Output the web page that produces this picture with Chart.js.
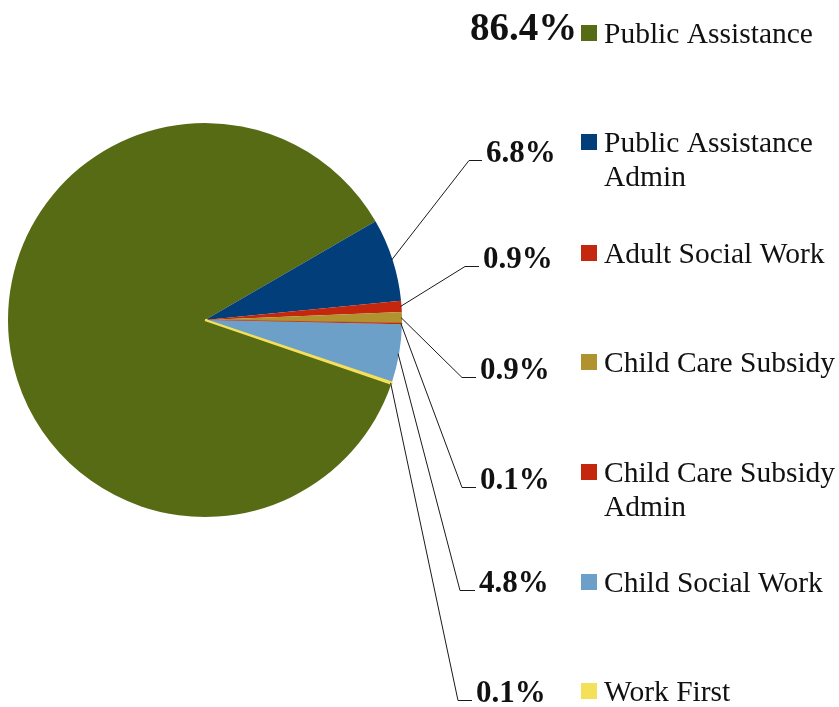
<!DOCTYPE html>
<html>
<head>
<meta charset="utf-8">
<script src="https://cdn.jsdelivr.net/npm/chart.js@4/dist/chart.umd.min.js"></script>
<style>
    html, body { margin: 0; padding: 0; background: #ffffff; }
    #wrap { width: 839px; height: 707px; position: relative; }
</style>
</head>
<body>
<div id="wrap"><canvas id="budgetChart"></canvas></div>
<script>
const categories = [
    "Public Assistance",
    "Public Assistance Admin",
    "Adult Social Work",
    "Child Care Subsidy",
    "Child Care Subsidy Admin",
    "Child Social Work",
    "Work First"
];
const shares = [86.4, 6.8, 0.9, 0.9, 0.1, 4.8, 0.1];
const sliceColors = ["#566b14", "#013e7a", "#c4260e", "#b0932f", "#c4260e", "#6ca0c8", "#f5e05a"];

// label placement: [text x, baseline y, elbow x]
const labelSpots = [
    [470, 40, null],
    [486, 162, 469],
    [483, 268, 465],
    [480, 379, 462],
    [480, 489, 462],
    [479, 592, 460],
    [476, 702, 458]
];
const legendBaselines = [43, 152, 263, 372, 482, 592, 701];

const serif = "'Liberation Serif', 'Times New Roman', serif";

const sideLabels = {
    id: "sideLabels",
    afterDatasetsDraw(chart) {
        const ctx = chart.ctx;
        const arcs = chart.getDatasetMeta(0).data;
        ctx.save();

        // percentage labels with leader lines
        arcs.forEach((arc, i) => {
            const spot = labelSpots[i];
            const text = shares[i].toFixed(1) + "%";
            ctx.fillStyle = "#111111";
            ctx.textBaseline = "alphabetic";
            ctx.textAlign = "left";
            ctx.font = (i === 0 ? "bold 39px " : "bold 31px ") + serif;
            ctx.fillText(text, spot[0], spot[1]);

            if (spot[2] !== null) {
                const mid = (arc.startAngle + arc.endAngle) / 2;
                const sx = arc.x + Math.cos(mid) * (arc.outerRadius - 1);
                const sy = arc.y + Math.sin(mid) * (arc.outerRadius - 1);
                const ly = spot[1] - 1.5;
                ctx.strokeStyle = "#1a1a1a";
                ctx.lineWidth = 1;
                ctx.beginPath();
                ctx.moveTo(sx, sy);
                ctx.lineTo(spot[2], ly);
                ctx.lineTo(spot[0] - 4, ly);
                ctx.stroke();
            }
        });

        // legend
        ctx.font = "29.5px " + serif;
        categories.forEach((name, i) => {
            const base = legendBaselines[i];
            ctx.fillStyle = sliceColors[i];
            ctx.fillRect(581, base - 18, 16, 16);

            const words = name.split(" ");
            const lines = [];
            let line = "";
            words.forEach(w => {
                const test = line ? line + " " + w : w;
                if (line && ctx.measureText(test).width > 240) {
                    lines.push(line);
                    line = w;
                } else {
                    line = test;
                }
            });
            lines.push(line);

            ctx.fillStyle = "#111111";
            lines.forEach((t, k) => ctx.fillText(t, 604, base + k * 34));
        });

        ctx.restore();
    }
};

new Chart(document.getElementById("budgetChart"), {
    type: "pie",
    data: {
        labels: categories,
        datasets: [{
            data: shares,
            backgroundColor: sliceColors,
            borderColor: sliceColors,
            borderWidth: [0, 0, 0, 0, 0.6, 0, 2.2]
        }]
    },
    options: {
        responsive: true,
        maintainAspectRatio: false,
        animation: false,
        events: [],
        rotation: 108.9,
        radius: 197,
        layout: {
            padding: { left: 8, top: 123, right: 437, bottom: 190 }
        },
        plugins: {
            legend: { display: false },
            tooltip: { enabled: false }
        }
    },
    plugins: [sideLabels]
});
</script>
</body>
</html>
